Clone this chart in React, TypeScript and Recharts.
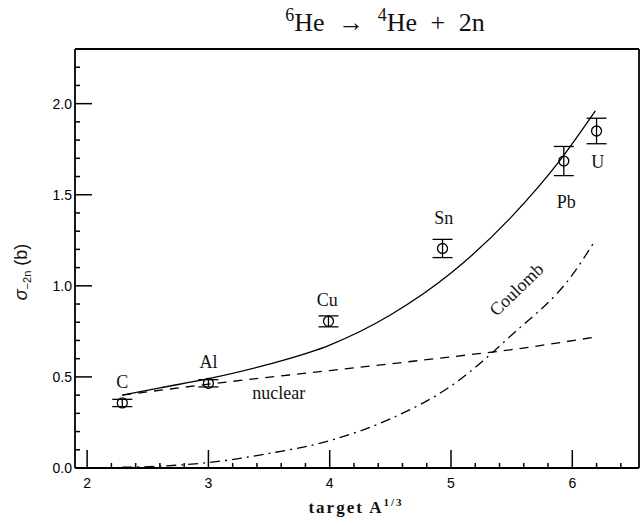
import { ComposedChart, XAxis, YAxis, Line, Scatter, ErrorBar } from 'recharts'

// measured cross sections, x = target A^(1/3)
const targets = ['C', 'Al', 'Cu', 'Sn', 'Pb', 'U']
const targetX = [2.29, 3.0, 3.99, 4.93, 5.93, 6.2]
const sigma = [0.357, 0.465, 0.805, 1.205, 1.685, 1.85]
const sigmaErr = [0.02, 0.02, 0.03, 0.05, 0.08, 0.07]

// calculated curves
const totalX = [2.29, 2.6, 3.0, 3.5, 4.0, 4.5, 5.0, 5.5, 5.9, 6.19]
const totalY = [0.4, 0.44, 0.49, 0.57, 0.675, 0.84, 1.07, 1.38, 1.69, 1.96]
const nuclearX = [2.29, 3.0, 4.0, 5.0, 5.5, 6.2]
const nuclearY = [0.4, 0.46, 0.535, 0.61, 0.65, 0.72]
const coulombX = [2.29, 2.6, 3.0, 3.5, 4.0, 4.5, 5.0, 5.5, 6.0, 6.18]
const coulombY = [0.004, 0.01, 0.03, 0.08, 0.15, 0.27, 0.45, 0.73, 1.06, 1.24]

// target labels sit next to their points
const labelX = [2.29, 3.0, 3.98, 4.94, 5.95, 6.21]
const labelY = [0.47, 0.58, 0.92, 1.37, 1.46, 1.68]

const xDomain = [1.9, 6.55]
const yDomain = [0, 2.3]
const xTicks = [2, 2.2, 2.4, 2.6, 2.8, 3, 3.2, 3.4, 3.6, 3.8, 4, 4.2, 4.4, 4.6, 4.8, 5, 5.2, 5.4, 5.6, 5.8, 6, 6.2, 6.4]
const yTicks = [0, 0.1, 0.2, 0.3, 0.4, 0.5, 0.6, 0.7, 0.8, 0.9, 1, 1.1, 1.2, 1.3, 1.4, 1.5, 1.6, 1.7, 1.8, 1.9, 2, 2.1, 2.2]

const isInt = (v: number) => Math.abs(v - Math.round(v)) < 1e-6
const isHalf = (v: number) => Math.abs(v * 2 - Math.round(v * 2)) < 1e-6

const points = targets.map((name, i) => ({ name, x: targetX[i], y: sigma[i], err: sigmaErr[i] }))
const total = totalX.map((x, i) => ({ x, y: totalY[i] }))
const nuclear = nuclearX.map((x, i) => ({ x, y: nuclearY[i] }))
const coulomb = coulombX.map((x, i) => ({ x, y: coulombY[i] }))
const labels = [
  ...targets.map((t, i) => ({ x: labelX[i], y: labelY[i], text: t, angle: 0 })),
  { x: 3.58, y: 0.41, text: 'nuclear', angle: 0 },
  { x: 5.54, y: 0.98, text: 'Coulomb', angle: -44 },
]

const tickFont = { fontFamily: 'Liberation Sans, Arial, sans-serif', fontSize: 14, fill: '#000' }
const serif = 'Liberation Serif, Times New Roman, serif'
const axisLine = { stroke: '#000', strokeWidth: 1.8 }

function BottomTick({ x, y, payload }: any) {
  const X = Number(x)
  const Y = Number(y)
  const major = isInt(payload.value)
  return (
    <g>
      <line x1={X} x2={X} y1={Y} y2={Y - (major ? 18 : 5)} stroke="#000" strokeWidth={1.5} />
      {major && (
        <text x={X} y={Y + 20} textAnchor="middle" {...tickFont}>
          {payload.value}
        </text>
      )}
    </g>
  )
}

function TopTick({ x, y, payload }: any) {
  const X = Number(x)
  const Y = Number(y)
  const major = isInt(payload.value)
  return <line x1={X} x2={X} y1={Y} y2={Y + (major ? 18 : 5)} stroke="#000" strokeWidth={1.5} />
}

function LeftTick({ x, y, payload }: any) {
  const X = Number(x)
  const Y = Number(y)
  const major = isHalf(payload.value)
  return (
    <g>
      <line x1={X} x2={X + (major ? 17 : 5)} y1={Y} y2={Y} stroke="#000" strokeWidth={1.5} />
      {major && (
        <text x={X - 3} y={Y + 5} textAnchor="end" {...tickFont}>
          {Number(payload.value).toFixed(1)}
        </text>
      )}
    </g>
  )
}

function RightTick({ x, y, payload }: any) {
  const X = Number(x)
  const Y = Number(y)
  const major = isHalf(payload.value)
  return <line x1={X} x2={X - (major ? 17 : 5)} y1={Y} y2={Y} stroke="#000" strokeWidth={1.5} />
}

function OpenCircle({ cx, cy }: any) {
  return <circle cx={cx} cy={cy} r={5} fill="none" stroke="#000" strokeWidth={1.3} />
}

function TextMark({ cx, cy, payload }: any) {
  return (
    <text
      x={cx}
      y={cy}
      textAnchor="middle"
      dominantBaseline="central"
      transform={payload.angle ? `rotate(${payload.angle} ${cx} ${cy})` : undefined}
      fontFamily={serif}
      fontSize={18}
      fill="#111"
    >
      {payload.text}
    </text>
  )
}

export default function App() {
  return (
    <div style={{ position: 'absolute', left: 0, top: 0, width: 640, height: 525 }}>
      <div
        style={{
          position: 'absolute',
          left: 0,
          width: 770,
          top: 5,
          textAlign: 'center',
          fontFamily: serif,
          fontSize: 26,
          wordSpacing: 7,
          color: '#111',
        }}
      >
        <sup style={{ fontSize: 18 }}>6</sup>He → <sup style={{ fontSize: 18 }}>4</sup>He + 2n
      </div>
      <div
        style={{
          position: 'absolute',
          left: 22,
          top: 272,
          transform: 'translate(-50%, -50%) rotate(-90deg)',
          whiteSpace: 'nowrap',
          fontFamily: 'Liberation Sans, Arial, sans-serif',
          fontSize: 18,
          color: '#111',
        }}
      >
        <i>σ</i>
        <sub style={{ fontSize: 11 }}>−2n</sub> (b)
      </div>
      <div
        style={{
          position: 'absolute',
          left: 0,
          width: 712,
          top: 496,
          textAlign: 'center',
          fontFamily: serif,
          fontSize: 17,
          fontWeight: 'bold',
          letterSpacing: 2,
          color: '#111',
        }}
      >
        target A<sup style={{ fontSize: 11 }}>1/3</sup>
      </div>
      <div style={{ position: 'absolute', left: 0, top: 0 }}>
        <ComposedChart width={640} height={525} margin={{ top: 48, right: 0, bottom: 56, left: 74 }}>
          <XAxis
            xAxisId="bottom"
            dataKey="x"
            type="number"
            domain={xDomain}
            ticks={xTicks}
            height={1}
            tickSize={0}
            tickMargin={0}
            tickLine={false}
            axisLine={axisLine}
            tick={BottomTick}
            interval={0}
          />
          <XAxis
            xAxisId="top"
            orientation="top"
            dataKey="x"
            type="number"
            domain={xDomain}
            ticks={xTicks}
            height={1}
            tickSize={0}
            tickMargin={0}
            tickLine={false}
            axisLine={axisLine}
            tick={TopTick}
            interval={0}
          />
          <YAxis
            yAxisId="left"
            type="number"
            domain={yDomain}
            ticks={yTicks}
            width={1}
            tickSize={0}
            tickMargin={0}
            tickLine={false}
            axisLine={axisLine}
            tick={LeftTick}
            interval={0}
          />
          <YAxis
            yAxisId="right"
            orientation="right"
            type="number"
            domain={yDomain}
            ticks={yTicks}
            width={1}
            tickSize={0}
            tickMargin={0}
            tickLine={false}
            axisLine={axisLine}
            tick={RightTick}
            interval={0}
          />
          <Line
            xAxisId="bottom"
            yAxisId="left"
            data={total}
            dataKey="y"
            type="monotone"
            stroke="#000"
            strokeWidth={1.3}
            dot={false}
            isAnimationActive={false}
          />
          <Line
            xAxisId="bottom"
            yAxisId="left"
            data={nuclear}
            dataKey="y"
            type="monotone"
            stroke="#000"
            strokeWidth={1.3}
            strokeDasharray="9 7"
            dot={false}
            isAnimationActive={false}
          />
          <Line
            xAxisId="bottom"
            yAxisId="left"
            data={coulomb}
            dataKey="y"
            type="monotone"
            stroke="#000"
            strokeWidth={1.3}
            strokeDasharray="10 5 2 5"
            dot={false}
            isAnimationActive={false}
          />
          <Scatter
            xAxisId="bottom"
            yAxisId="left"
            data={points}
            dataKey="y"
            shape={<OpenCircle />}
            isAnimationActive={false}
          >
            <ErrorBar dataKey="err" direction="y" width={10} stroke="#000" strokeWidth={1.3} />
          </Scatter>
          <Scatter
            xAxisId="bottom"
            yAxisId="left"
            data={labels}
            dataKey="y"
            shape={<TextMark />}
            isAnimationActive={false}
          />
        </ComposedChart>
      </div>
    </div>
  )
}
